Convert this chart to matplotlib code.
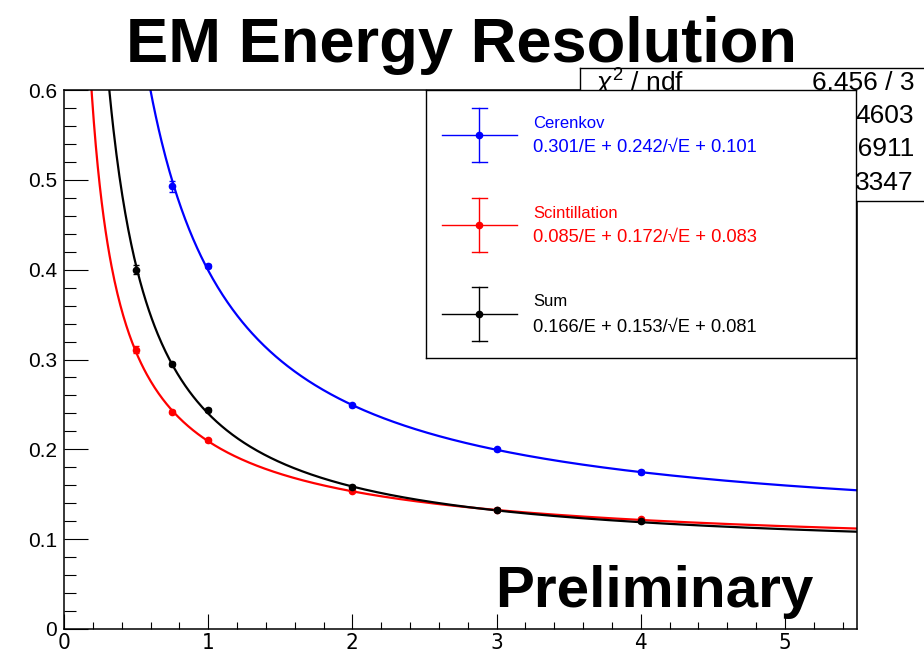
import numpy as np
import matplotlib
matplotlib.use("Agg")
import matplotlib.pyplot as plt
from matplotlib.ticker import MultipleLocator

plt.rcParams['font.family'] = ['Liberation Sans', 'DejaVu Sans']
plt.rcParams['mathtext.fontset'] = 'custom'
plt.rcParams['mathtext.rm'] = 'Liberation Sans'
plt.rcParams['mathtext.it'] = 'Liberation Sans:italic'

# Measured resolution points (sigma_E / E) vs beam energy E [GeV]
cer_E = [0.75, 1.0, 2.0, 3.0, 4.0]
cer_res = [0.493, 0.404, 0.249, 0.200, 0.175]
cer_err = [0.006, 0.002, 0.002, 0.002, 0.002]

sci_E = [0.5, 0.75, 1.0, 2.0, 3.0, 4.0]
sci_res = [0.311, 0.242, 0.210, 0.154, 0.133, 0.122]
sci_err = [0.004, 0.002, 0.002, 0.002, 0.002, 0.002]

sum_E = [0.5, 0.75, 1.0, 2.0, 3.0, 4.0]
sum_res = [0.400, 0.295, 0.244, 0.158, 0.133, 0.120]
sum_err = [0.005, 0.002, 0.002, 0.002, 0.002, 0.002]

# Fit parameters: a/E (+) b/sqrt(E) (+) c, added in quadrature
cer_par = [0.301, 0.242, 0.101]
sci_par = [0.085, 0.172, 0.083]
sum_par = [0.166, 0.153, 0.081]

series_names = ["Cerenkov", "Scintillation", "Sum"]
series_colors = ["#0000ff", "#ff0000", "#000000"]

stat_rows = [("$\\chi^2$ / ndf", "6.456 / 3"), ("", "4603"), ("", "06911"), ("", "3347")]

x_ticks = [0, 1, 2, 3, 4, 5]
y_ticks = [0, 0.1, 0.2, 0.3, 0.4, 0.5, 0.6]
y_ticklabels = ['0', '0.1', '0.2', '0.3', '0.4', '0.5', '0.6']

W, H = 924, 654
fig = plt.figure(figsize=(W / 100, H / 100), dpi=100)


def fig_rect(x0, y0, x1, y1):
    """Pixel box (top-left origin) -> figure fraction rect."""
    return [x0 / W, 1 - y1 / H, (x1 - x0) / W, (y1 - y0) / H]


def resolution(E, p):
    a, b, c = p
    return np.sqrt((a / E) ** 2 + b ** 2 / E + c ** 2)


ax = fig.add_axes(fig_rect(64, 90, 857, 629))
ax.set_xlim(0, 5.5)
ax.set_ylim(0, 0.6)

Ef = np.linspace(0.05, 5.5, 800)
data = [(cer_E, cer_res, cer_err, cer_par),
        (sci_E, sci_res, sci_err, sci_par),
        (sum_E, sum_res, sum_err, sum_par)]
for (E, r, e, p), col in zip(data, series_colors):
    ax.plot(Ef, resolution(Ef, p), color=col, lw=1.6, zorder=2)
    ax.errorbar(E, r, yerr=e, fmt='o', color=col, ms=4.5, elinewidth=1.0,
                capsize=2, capthick=1.0, zorder=3)

for s in ax.spines.values():
    s.set_linewidth(1.1)

ax.xaxis.set_minor_locator(MultipleLocator(0.2))
ax.yaxis.set_minor_locator(MultipleLocator(0.02))
ax.tick_params(axis='x', which='major', direction='in', length=10.5, width=0.8, pad=3)
ax.tick_params(axis='x', which='minor', direction='in', length=5.3, width=0.8)
ax.tick_params(axis='y', which='major', direction='in', length=17, width=0.8, pad=5,
               labelsize=15)
ax.tick_params(axis='y', which='minor', direction='in', length=8.5, width=0.8)
ax.set_xticks(x_ticks)
ax.set_xticklabels([str(v) for v in x_ticks], family=['DejaVu Sans'],
                   fontstretch='condensed', fontsize=16)
ax.set_yticks(y_ticks)
ax.set_yticklabels(y_ticklabels)

ax.text(0.945, 0.04, "Preliminary", transform=ax.transAxes, ha='right', va='baseline',
        fontsize=42, fontweight='bold', zorder=5)

fig.text(461 / W, 1 - 62 / H, "EM Energy Resolution", ha='center', va='baseline',
         fontsize=45.5, fontweight='bold')

# Fit statistics box
sax = fig.add_axes(fig_rect(580, 68, 935, 201), zorder=2)
sax.set_xlim(580, 935)
sax.set_ylim(201, 68)
sax.set_xticks([])
sax.set_yticks([])
for s in sax.spines.values():
    s.set_linewidth(1.0)
row_y = [83, 116, 149, 183]
for (lab, val), y in zip(stat_rows, row_y):
    if lab:
        sax.text(595, y, lab, ha='left', va='center', fontsize=19)
    sax.text(914, y, val, ha='right', va='center', fontsize=19)

# Legend panel
lax = fig.add_axes(fig_rect(426, 90, 856, 358), zorder=3)
lax.set_xlim(426, 856)
lax.set_ylim(358, 90)
lax.set_xticks([])
lax.set_yticks([])
for s in lax.spines.values():
    s.set_linewidth(1.0)

formulas = [f"{p[0]:.3f}/E + {p[1]:.3f}/\u221AE + {p[2]:.3f}" for p in (cer_par, sci_par, sum_par)]
marker_y = [135, 225, 314]
for name, form, col, my in zip(series_names, formulas, series_colors, marker_y):
    lax.plot([442, 517], [my, my], color=col, lw=1.0)
    lax.plot([479, 479], [my - 27, my + 27], color=col, lw=1.0)
    for cy in (my - 27, my + 27):
        lax.plot([472, 487], [cy, cy], color=col, lw=1.0)
    lax.plot([479], [my], 'o', color=col, ms=4.5)
    lax.text(533, my - 12, name, color=col, ha='left', va='center', fontsize=12)
    lax.text(533, my + 13, form, color=col, ha='left', va='center', fontsize=13.2)

fig.savefig("out.png", dpi=100)
